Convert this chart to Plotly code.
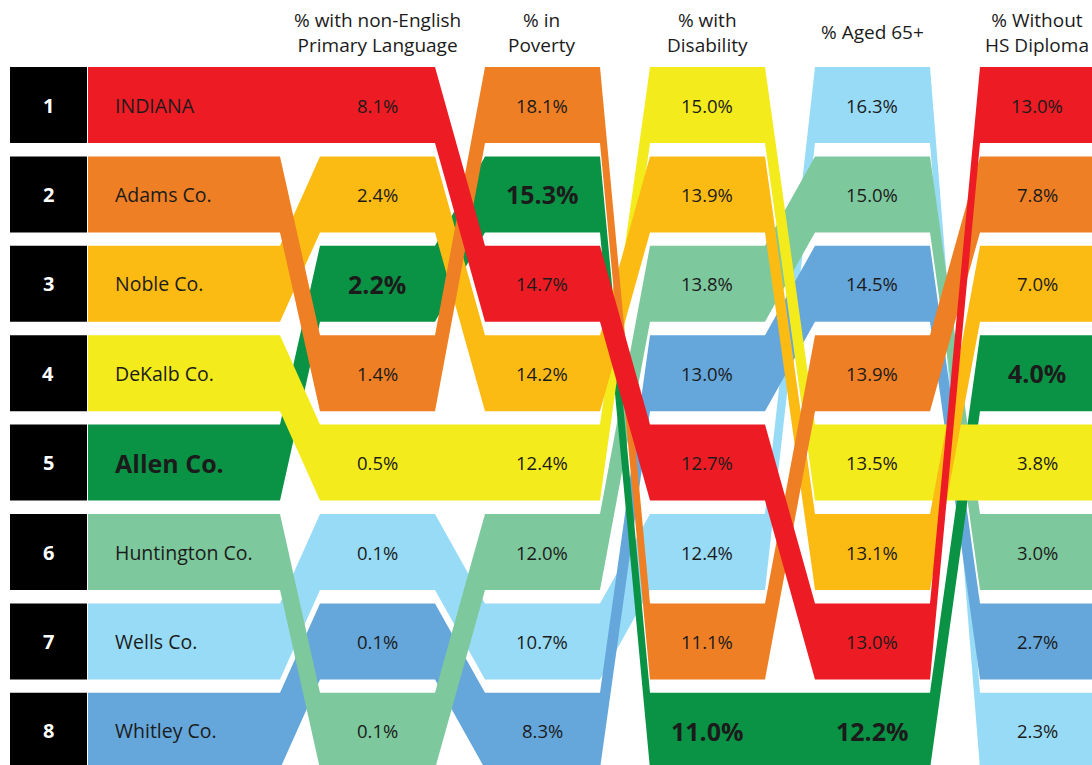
import plotly.graph_objects as go

# counties in the order of the left-hand (name) column
names = ["INDIANA", "Adams Co.", "Noble Co.", "DeKalb Co.", "Allen Co.",
         "Huntington Co.", "Wells Co.", "Whitley Co."]
colors = ["#ed1c24", "#ef7f24", "#fcbb12", "#f3eb1c", "#0b9345",
          "#7ec89d", "#98dbf6", "#65a7db"]

headers = ["% with non-English<br>Primary Language", "% in<br>Poverty",
           "% with<br>Disability", "% Aged 65+", "% Without<br>HS Diploma"]

# values per measure, listed in the same order as names
non_english = [8.1, 1.4, 2.4, 0.5, 2.2, 0.1, 0.1, 0.1]
poverty = [14.7, 18.1, 14.2, 12.4, 15.3, 12.0, 10.7, 8.3]
disability = [12.7, 11.1, 13.9, 15.0, 11.0, 13.8, 12.4, 13.0]
aged_65 = [13.0, 13.9, 13.1, 13.5, 12.2, 15.0, 16.3, 14.5]
no_diploma = [13.0, 7.8, 7.0, 3.8, 4.0, 3.0, 2.3, 2.7]

# row each county lands on in each column (ties ordered as in the original)
name_rank = [1, 2, 3, 4, 5, 6, 7, 8]
non_english_rank = [1, 4, 2, 5, 3, 8, 6, 7]
poverty_rank = [3, 1, 4, 5, 2, 6, 7, 8]
disability_rank = [5, 7, 2, 1, 8, 3, 6, 4]
aged_65_rank = [7, 4, 6, 5, 8, 2, 1, 3]
no_diploma_rank = [1, 2, 3, 5, 4, 6, 8, 7]

highlight = "Allen Co."

measures = [non_english, poverty, disability, aged_65, no_diploma]
ranks = [name_rank, non_english_rank, poverty_rank, disability_rank,
         aged_65_rank, no_diploma_rank]

# layout in pixel units (axes span the whole page)
W, H = 1092, 765
col_x0 = [88, 320, 485, 650, 815, 980]
col_x1 = [280, 435, 600, 765, 930, 1100]
row_top0, row_pitch, row_h = 67, 89.4, 76
font = "Open Sans, Noto Sans, sans-serif"
ink = "#1b1b1b"


def top(r):
    return row_top0 + row_pitch * (r - 1)


fig = go.Figure()

# black rank boxes
for r in name_rank:
    y0, y1 = top(r), top(r) + row_h
    fig.add_trace(go.Scatter(x=[10, 87, 87, 10, 10], y=[y0, y0, y1, y1, y0],
                             mode="lines", fill="toself", fillcolor="#000000",
                             line=dict(width=0), hoverinfo="skip"))

# ribbons: drawn back to front
draw_order = [6, 7, 5, 4, 3, 2, 1, 0]
for i in draw_order:
    xs_top, ys_top = [], []
    for c, rk in enumerate(ranks):
        t = top(rk[i])
        xs_top += [col_x0[c], col_x1[c]]
        ys_top += [t, t]
    xs = xs_top + xs_top[::-1]
    ys = ys_top + [y + row_h for y in ys_top[::-1]]
    fig.add_trace(go.Scatter(x=xs + [xs[0]], y=ys + [ys[0]], mode="lines",
                             fill="toself", fillcolor=colors[i],
                             line=dict(width=0), hoverinfo="skip",
                             name=names[i]))

ann = []
for i, n in enumerate(names):
    yc = top(name_rank[i]) + row_h / 2
    big = n == highlight
    ann.append(dict(x=48, y=yc, text=f"<b>{name_rank[i]}</b>", showarrow=False,
                    font=dict(family=font, size=20, color="white")))
    ann.append(dict(x=113, y=yc, text=f"<b>{n}</b>" if big else n,
                    xanchor="left", showarrow=False,
                    font=dict(family=font, size=25 if big else 19.5, color=ink)))
    for c, vals in enumerate(measures):
        xc = col_x0[c + 1] + 57
        yv = top(ranks[c + 1][i]) + row_h / 2
        txt = f"{vals[i]:.1f}%"
        ann.append(dict(x=xc, y=yv, text=f"<b>{txt}</b>" if big else txt,
                        showarrow=False,
                        font=dict(family=font, size=25 if big else 18.5, color=ink)))

for c, h in enumerate(headers):
    xc = col_x0[c + 1] + 57
    ann.append(dict(x=xc, y=32, text=h, showarrow=False, yanchor="middle",
                    font=dict(family=font, size=19, color=ink)))

fig.update_layout(
    width=W, height=H, autosize=False,
    margin=dict(l=0, r=0, t=0, b=0, pad=0),
    paper_bgcolor="white", plot_bgcolor="white",
    showlegend=False, annotations=ann,
    xaxis=dict(range=[0, W], visible=False, fixedrange=True),
    yaxis=dict(range=[H, 0], visible=False, fixedrange=True),
)

# drop the browser's default page margin so the figure sits at the corner
fig.write_html("out.html", config={"displayModeBar": False},
               post_script="document.body.style.margin='0';")
